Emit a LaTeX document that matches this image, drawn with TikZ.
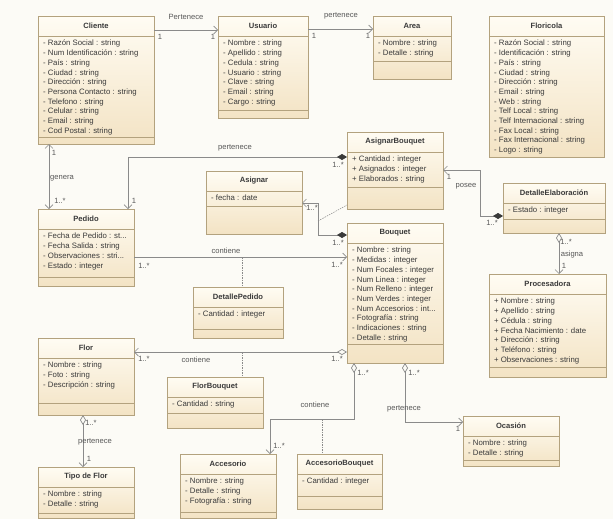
\documentclass[tikz,border=0pt]{standalone}
\usepackage{fontspec}
\setmainfont{Liberation Sans}
\usetikzlibrary{arrows.meta, calc, positioning}
\definecolor{bgcol}{HTML}{FCFBF6}
\definecolor{boxborder}{HTML}{B3A27E}
\definecolor{boxtop}{HTML}{FFFCF3}
\definecolor{boxbot}{HTML}{F3E3C4}
\definecolor{linecol}{HTML}{8A8A8A}
\definecolor{txtcol}{HTML}{3A3A3A}

\tikzset{
	classbox/.style={
			rectangle,
			anchor=north west,
			draw=boxborder,
			line width=0.7pt,
			top color=boxtop,
			bottom color=boxbot,
			inner sep=0pt,
			outer sep=0pt
		},
	classline/.style={draw=boxborder, line width=0.7pt},
	classtitle/.style={
			font=\fontsize{7.6}{9}\selectfont\bfseries,
			text=txtcol,
			inner sep=0pt
		},
	classattr/.style={
			anchor=north west,
			align=left,
			font=\fontsize{7.8}{9.7}\selectfont,
			text=txtcol,
			inner sep=1pt
		},
	lbl/.style={font=\fontsize{7.6}{9}\selectfont, text=txtcol!85, inner sep=0pt},
	assoc/.style={draw=linecol, line width=0.7pt},
	nav/.style={assoc, -{Straight Barb[length=4pt,width=8pt]}},
	navboth/.style={assoc, {Straight Barb[length=4pt,width=8pt]}-{Straight Barb[length=4pt,width=8pt]}},
	compnav/.style={assoc, {Diamond[length=10pt,width=6pt,color=txtcol]}-{Straight Barb[length=4pt,width=8pt]}},
	aggnav/.style={assoc, {Diamond[open,length=10pt,width=6pt]}-{Straight Barb[length=4pt,width=8pt]}},
	assocclass/.style={draw=linecol, line width=0.5pt, dash pattern=on 1.5pt off 1pt}
}

% id, x, y, width, height, attribute height, title, attributes
\NewDocumentCommand{\umlclass}{m m m m m m m m}{%
	\node[classbox, minimum width=#4pt, minimum height=#5pt] (#1) at (#2,#3) {};
	\draw[classline] ([yshift=-20pt]#1.north west) -- ([yshift=-20pt]#1.north east);
	\draw[classline] ([yshift=-20pt-#6pt]#1.north west) -- ([yshift=-20pt-#6pt]#1.north east);
	\node[classtitle] (#1-title) at ([yshift=-10pt]#1.north) {#7};
	\node[classattr] (#1-attr) at ([shift={(4pt,-22pt)}]#1.north west) {\strut #8};
}

\begin{document}
\begin{tikzpicture}[x=1pt, y=-1pt]
\fill[bgcol] (0,0) rectangle (613,519);
\useasboundingbox (0,0) rectangle (613,519);

% classes
\umlclass{cliente}{38}{16}{116}{128}{101}{Cliente}{- Razón Social : string\\- Num Identificación : string\\- País : string\\- Ciudad : string\\- Dirección : string\\- Persona Contacto : string\\- Telefono : string\\- Celular : string\\- Email : string\\- Cod Postal : string}
\umlclass{usuario}{218}{16}{90}{102}{74}{Usuario}{- Nombre : string\\- Apellido : string\\- Cedula : string\\- Usuario : string\\- Clave : string\\- Email : string\\- Cargo : string}
\umlclass{area}{373}{16}{78}{63}{25}{Area}{- Nombre : string\\- Detalle : string}
\umlclass{floricola}{489}{16}{115}{141}{121}{Floricola}{- Razón Social : string\\- Identificación : string\\- País : string\\- Ciudad : string\\- Dirección : string\\- Email : string\\- Web : string\\- Telf Local : string\\- Telf Internacional : string\\- Fax Local : string\\- Fax Internacional : string\\- Logo : string}
\umlclass{pedido}{38}{209}{96}{77}{48}{Pedido}{- Fecha de Pedido : st...\\- Fecha Salida : string\\- Observaciones : stri...\\- Estado : integer}
\umlclass{asigbq}{347}{132}{96}{77}{35}{AsignarBouquet}{+ Cantidad : integer\\+ Asignados : integer\\+ Elaborados : string}
\umlclass{asignar}{206}{171}{96}{63}{15}{Asignar}{- fecha : date}
\umlclass{bouquet}{347}{223}{96}{140}{101}{Bouquet}{- Nombre : string\\- Medidas : integer\\- Num Focales : integer\\- Num Linea : integer\\- Num Relleno : integer\\- Num Verdes : integer\\- Num Accesorios : int...\\- Fotografía : string\\- Indicaciones : string\\- Detalle : string}
\umlclass{detelab}{503}{183}{102}{50}{16}{DetalleElaboración}{- Estado : integer}
\umlclass{procesadora}{489}{274}{117}{103}{73}{Procesadora}{+ Nombre : string\\+ Apellido : string\\+ Cédula : string\\+ Fecha Nacimiento : date\\+ Dirección : string\\+ Teléfono : string\\+ Observaciones : string}
\umlclass{detped}{193}{287}{90}{51}{22}{DetallePedido}{- Cantidad : integer}
\umlclass{flor}{38}{338}{96}{77}{45}{Flor}{- Nombre : string\\- Foto : string\\- Descripción : string}
\umlclass{florbq}{167}{377}{96}{51}{16}{FlorBouquet}{- Cantidad : string}
\umlclass{tipoflor}{38}{467}{96}{51}{26}{Tipo de Flor}{- Nombre : string\\- Detalle : string}
\umlclass{accesorio}{180}{454}{96}{64}{38}{Accesorio}{- Nombre : string\\- Detalle : string\\- Fotografía : string}
\umlclass{accbq}{297}{454}{85}{55}{22}{AccesorioBouquet}{- Cantidad : integer}
\umlclass{ocasion}{463}{416}{96}{50}{24}{Ocasión}{- Nombre : string\\- Detalle : string}

% bend points
\coordinate (b4) at (128,157);
\coordinate (b5) at (480,216);
\coordinate (b6) at (318,235);
\coordinate (m6) at (318,221);
\coordinate (m7) at (242,257);
\coordinate (m8) at (242,352);
\coordinate (b9) at (270,419);
\coordinate (m9) at (322,419);

% associations
\draw[nav] ([yshift=-14pt]cliente.north east) -- ([yshift=-14pt]usuario.north west);
\draw[nav] ([yshift=-13pt]usuario.north east) -- ([yshift=-13pt]area.north west);
\draw[navboth] ([xshift=11pt]pedido.north west) -- ([xshift=11pt]cliente.south west);
\draw[compnav] (asigbq.west |- b4) -- (b4) -- (b4 |- pedido.north);
\draw[compnav] (detelab.west |- b5) -- (b5) |- ([yshift=-38pt]asigbq.north east);
\draw[compnav] (bouquet.west |- b6) -- (b6) |- ([yshift=-32pt]asignar.north east);
\draw[assocclass] (m6) -- ([yshift=4pt]asigbq.south west);
\draw[nav] (pedido.east |- m7) -- (bouquet.west |- m7);
\draw[assocclass] (m7) -- (m7 |- detped.north);
\draw[aggnav] (bouquet.west |- m8) -- (flor.east |- m8);
\draw[assocclass] (m8) -- (m8 |- florbq.north);
\draw[aggnav] ([xshift=7pt]bouquet.south west) |- (b9) -- (b9 |- accesorio.north);
\draw[assocclass] (m9) -- (m9 |- accbq.north);
\draw[aggnav] ([xshift=58pt]bouquet.south west) |- ([yshift=-6pt]ocasion.north west);
\draw[aggnav] ([xshift=56pt]detelab.south west) -- ([xshift=56pt]detelab.south west |- procesadora.north);
\draw[aggnav] ([xshift=45pt]flor.south west) -- ([xshift=45pt]flor.south west |- tipoflor.north);

% labels
\node[lbl] (l-pert1) at (186,17) {Pertenece};
\node[lbl] (l-m1a) at (160,37) {1};
\node[lbl] (l-m1b) at (213,37) {1};
\node[lbl] (l-pert2) at (341,16) {pertenece};
\node[lbl] (l-m2a) at (314,36) {1};
\node[lbl] (l-m2b) at (368,36) {1};
\node[lbl] (l-m3a) at (54,153) {1};
\node[lbl] (l-genera) at (62,178) {genera};
\node[lbl] (l-m3b) at (60,201) {1..*};
\node[lbl] (l-pert4) at (235,148) {pertenece};
\node[lbl] (l-m4a) at (338,165) {1..*};
\node[lbl] (l-m4b) at (134,201) {1};
\node[lbl] (l-posee) at (466,186) {posee};
\node[lbl] (l-m5a) at (492,223) {1..*};
\node[lbl] (l-m5b) at (449,177) {1};
\node[lbl] (l-m6a) at (338,243) {1..*};
\node[lbl] (l-m6b) at (312,208) {1..*};
\node[lbl] (l-cont7) at (226,251) {contiene};
\node[lbl] (l-m7a) at (144,266) {1..*};
\node[lbl] (l-m7b) at (337,265) {1..*};
\node[lbl] (l-cont8) at (196,360) {contiene};
\node[lbl] (l-m8a) at (337,359) {1..*};
\node[lbl] (l-m8b) at (144,359) {1..*};
\node[lbl] (l-m9a) at (363,373) {1..*};
\node[lbl] (l-cont9) at (315,405) {contiene};
\node[lbl] (l-m9b) at (279,446) {1..*};
\node[lbl] (l-m10a) at (414,373) {1..*};
\node[lbl] (l-pert10) at (404,409) {pertenece};
\node[lbl] (l-m10b) at (458,429) {1};
\node[lbl] (l-m11a) at (566,242) {1..*};
\node[lbl] (l-asigna) at (572,255) {asigna};
\node[lbl] (l-m11b) at (564,266) {1};
\node[lbl] (l-m12a) at (91,423) {1..*};
\node[lbl] (l-pert12) at (95,442) {pertenece};
\node[lbl] (l-m12b) at (89,459) {1};

\end{tikzpicture}
\end{document}
